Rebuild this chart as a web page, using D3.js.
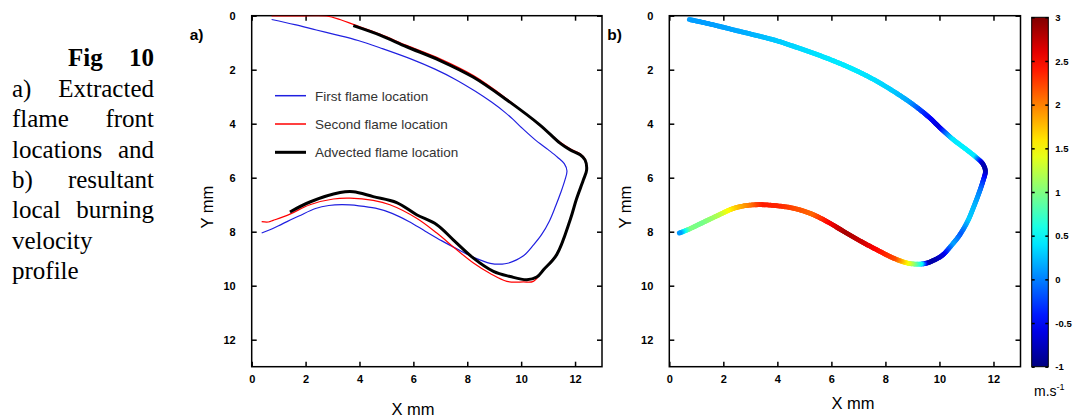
<!DOCTYPE html>
<html>
<head>
<meta charset="utf-8">
<script src="https://cdn.jsdelivr.net/npm/d3@7"></script>
<style>
  body { margin: 0; background: #fff; }
  svg { display: block; }
</style>
</head>
<body>
<svg id="fig" width="1078" height="417"></svg>
<script>
// ---- data (mm) ----
var firstX  = [0.74, 1.6, 2.4, 3.1, 3.95, 4.85, 5.9, 6.8, 7.56, 8.3, 8.9, 9.4, 9.7, 10.02, 10.5, 11.0, 11.35, 11.6, 11.7, 11.62, 11.47, 11.28, 11.05, 10.75, 10.45, 10.1, 9.7, 9.5, 9.3, 8.85, 8.3, 7.68, 7.06, 6.44, 5.83, 5.21, 4.59, 3.98, 3.36, 2.86, 2.37, 1.75, 1.14, 0.7, 0.37];
var firstY  = [0.14, 0.33, 0.53, 0.70, 0.92, 1.22, 1.60, 1.98, 2.36, 2.80, 3.20, 3.58, 3.84, 4.15, 4.58, 4.96, 5.24, 5.48, 5.75, 6.10, 6.55, 7.05, 7.60, 8.12, 8.50, 8.88, 9.10, 9.17, 9.20, 9.17, 8.98, 8.67, 8.34, 7.98, 7.62, 7.32, 7.13, 7.04, 7.00, 7.03, 7.14, 7.42, 7.71, 7.92, 8.05];
// local burning velocity along the first flame front (m/s)
var velocity = [0.12, 0.12, 0.15, 0.2, 0.28, 0.35, 0.4, 0.42, 0.38, 0.3, 0.15, -0.3, -0.5, -0.65, 0.4, 0.45, 0.4, -0.75, -0.85, -0.4, 0.0, 0.2, 0.3, -0.15, 0.15, -0.6, -0.85, -0.8, 0.45, 1.35, 2.2, 2.45, 2.7, 2.85, 2.5, 2.1, 2.2, 2.35, 2.4, 2.0, 1.7, 1.2, 0.95, 1.0, 0.1];

var secondX = [0.74, 1.8, 2.78, 3.3, 3.77, 4.76, 5.75, 6.99, 8.23, 9.47, 10.70, 11.44, 11.82, 12.19, 12.37, 12.43, 12.31, 12.05, 11.82, 11.32, 10.83, 10.45, 10.08, 9.47, 8.85, 8.23, 7.61, 6.87, 6.12, 5.13, 4.51, 3.65, 3.03, 2.16, 1.42, 0.80, 0.62, 0.37];
var secondY = [0.01, 0.01, 0.01, 0.15, 0.32, 0.68, 1.10, 1.60, 2.22, 3.08, 4.07, 4.68, 4.93, 5.11, 5.30, 5.71, 6.08, 6.80, 7.56, 8.82, 9.40, 9.84, 9.86, 9.84, 9.55, 9.16, 8.67, 8.05, 7.50, 7.00, 6.84, 6.76, 6.79, 7.00, 7.35, 7.58, 7.64, 7.63];

var advX = [3.77, 4.76, 5.75, 6.99, 8.23, 9.47, 10.70, 11.44, 11.82, 12.19, 12.37, 12.43, 12.31, 12.05, 11.82, 11.32, 10.83, 10.58, 10.21, 9.59, 8.97, 8.23, 7.48, 6.87, 6.12, 5.38, 4.51, 3.77, 3.28, 2.16, 1.42];
var advY = [0.37, 0.72, 1.15, 1.66, 2.28, 3.12, 4.05, 4.72, 4.97, 5.15, 5.34, 5.71, 6.08, 6.80, 7.56, 8.85, 9.41, 9.68, 9.78, 9.66, 9.47, 8.98, 8.30, 7.74, 7.37, 6.92, 6.70, 6.52, 6.55, 6.90, 7.27];

var axisTicks = [0, 2, 4, 6, 8, 10, 12];
var barTicks = [-1, -0.5, 0, 0.5, 1, 1.5, 2, 2.5, 3];
var legendNames = ["First flame location", "Second flame location", "Advected flame location"];
var captionLines = [["a)", "Extracted"], ["flame", "front"], ["locations", "and"], ["b)", "resultant"], ["local", "burning"], ["velocity"], ["profile"]];

var svg = d3.select("#fig");

function jet(t) {
  function c(v) { return Math.max(0, Math.min(1, v)); }
  var r = c(1.5 - Math.abs(4 * t - 3)), g = c(1.5 - Math.abs(4 * t - 2)), b = c(1.5 - Math.abs(4 * t - 1));
  return d3.rgb(r * 255, g * 255, b * 255).toString();
}
var color = d3.scaleSequential(jet).domain([-1, 3]);

// ---- caption on the left ----
var cap = svg.append("g").style("font-family", "Liberation Serif, Times New Roman, serif").style("font-size", "25px").attr("fill", "#000");
cap.append("text").attr("x", 68).attr("y", 66).style("font-weight", "bold").text("Fig");
cap.append("text").attr("x", 154).attr("y", 66).attr("text-anchor", "end").style("font-weight", "bold").text("10");
captionLines.forEach(function(words, i) {
  var yy = 97 + i * 30.3;
  cap.append("text").attr("x", 12).attr("y", yy).text(words[0]);
  if (words.length > 1)
    cap.append("text").attr("x", 154).attr("y", yy).attr("text-anchor", "end").text(words[1]);
});

// ---- panel builder ----
function buildPanel(left, right, top, bottom, label, xTitleX, xTitleY, yTitleX) {
  var x = d3.scaleLinear().domain([0, 13]).range([left, right]);
  var y = d3.scaleLinear().domain([0, 13]).range([top, bottom]);
  var g = svg.append("g");

  var fmt = d3.format("d");
  function style(sel) {
    sel.select(".domain").remove();
    sel.selectAll("line").attr("stroke", "#000").attr("stroke-width", 1.5);
    sel.selectAll("text").style("font-family", "Liberation Sans, Arial, sans-serif").style("font-size", "11px").style("font-weight", "bold").attr("fill", "#000");
  }
  g.append("g").attr("transform", "translate(0," + bottom + ")")
    .call(d3.axisBottom(x).tickValues(axisTicks).tickFormat(fmt).tickSizeInner(-5).tickSizeOuter(0).tickPadding(9)).call(style);
  g.append("g").attr("transform", "translate(0," + top + ")")
    .call(d3.axisTop(x).tickValues(axisTicks).tickFormat("").tickSizeInner(-5).tickSizeOuter(0)).call(style);
  g.append("g").attr("transform", "translate(" + left + ",0)")
    .call(d3.axisLeft(y).tickValues(axisTicks).tickFormat(fmt).tickSizeInner(-5).tickSizeOuter(0).tickPadding(16)).call(style);
  g.append("g").attr("transform", "translate(" + right + ",0)")
    .call(d3.axisRight(y).tickValues(axisTicks).tickFormat("").tickSizeInner(-5).tickSizeOuter(0)).call(style);

  g.append("rect").attr("x", left).attr("y", top).attr("width", right - left).attr("height", bottom - top)
    .attr("fill", "none").attr("stroke", "#000").attr("stroke-width", 1.5);

  g.append("text").attr("x", xTitleX).attr("y", xTitleY).attr("text-anchor", "middle")
    .style("font-family", "Liberation Sans, Arial, sans-serif").style("font-size", "16.5px").text("X mm");
  g.append("text").attr("transform", "translate(" + yTitleX + "," + ((top + bottom) / 2 + 16) + ") rotate(-90)")
    .attr("text-anchor", "middle")
    .style("font-family", "Liberation Sans, Arial, sans-serif").style("font-size", "16.5px").text("Y mm");
  g.append("text").attr("x", left - 62).attr("y", 40)
    .style("font-family", "Liberation Sans, Arial, sans-serif").style("font-size", "15.5px").style("font-weight", "bold").text(label);

  var clipId = "clip" + label.charAt(0);
  svg.append("clipPath").attr("id", clipId).append("rect")
    .attr("x", left).attr("y", top).attr("width", right - left).attr("height", bottom - top);
  var plot = g.append("g").attr("clip-path", "url(#" + clipId + ")");
  return { x: x, y: y, plot: plot, g: g };
}

// ---- panel a ----
var a = buildPanel(251.7, 602, 15.7, 366.7, "a)", 413, 415, 213);
var lineA = d3.line().x(function(d) { return a.x(d[0]); }).y(function(d) { return a.y(d[1]); }).curve(d3.curveCatmullRom);
function pairs(xs, ys) { return xs.map(function(v, i) { return [v, ys[i]]; }); }

a.plot.append("path").attr("d", lineA(pairs(firstX, firstY))).attr("fill", "none").attr("stroke", "#2020e0").attr("stroke-width", 1.2);
a.plot.append("path").attr("d", lineA(pairs(secondX, secondY))).attr("fill", "none").attr("stroke", "#ff0000").attr("stroke-width", 1.2);
a.plot.append("path").attr("d", lineA(pairs(advX, advY))).attr("fill", "none").attr("stroke", "#000").attr("stroke-width", 3).attr("stroke-linejoin", "round");

var legColors = ["#2020e0", "#ff0000", "#000"], legWidths = [1.5, 1.5, 3];
var legY = [95.7, 124, 152.3];
legendNames.forEach(function(name, i) {
  a.g.append("line").attr("x1", 275).attr("x2", 306).attr("y1", legY[i]).attr("y2", legY[i])
    .attr("stroke", legColors[i]).attr("stroke-width", legWidths[i]);
  a.g.append("text").attr("x", 315).attr("y", legY[i] + 5)
    .style("font-family", "Liberation Sans, Arial, sans-serif").style("font-size", "13.5px").attr("fill", "#333").text(name);
});

// ---- panel b ----
var b = buildPanel(669.3, 1020.5, 15.7, 366.7, "b)", 853, 409, 631);
var lineB = d3.line().x(function(d) { return b.x(d[0]); }).y(function(d) { return b.y(d[1]); }).curve(d3.curveCatmullRom);
var pts = pairs(firstX, firstY);
var measure = b.plot.append("path").attr("d", lineB(pts)).attr("fill", "none").attr("stroke", "none");
var total = measure.node().getTotalLength();
// arc length position of each data point
var cum = pts.map(function(p, i) {
  if (i === 0) return 0;
  var tmp = b.plot.append("path").attr("d", lineB(pts.slice(0, i + 1)));
  var l = tmp.node().getTotalLength();
  tmp.remove();
  return l;
});
var vAt = d3.scaleLinear().domain(cum).range(velocity);
var step = 1.5;
for (var s = 0; s < total; s += step) {
  var p0 = measure.node().getPointAtLength(s);
  var p1 = measure.node().getPointAtLength(Math.min(total, s + step));
  b.plot.append("line").attr("x1", p0.x).attr("y1", p0.y).attr("x2", p1.x).attr("y2", p1.y)
    .attr("stroke", color(vAt(s + step / 2))).attr("stroke-width", 4.8).attr("stroke-linecap", "round");
}

// ---- colour bar ----
var cbLeft = 1031.7, cbRight = 1048.3, cbTop = 17.3, cbBottom = 366.7;
var cy = d3.scaleLinear().domain([-1, 3]).range([cbBottom, cbTop]);
var grad = svg.append("defs").append("linearGradient").attr("id", "jet")
  .attr("x1", 0).attr("y1", 1).attr("x2", 0).attr("y2", 0);
d3.range(0, 1.0001, 0.05).forEach(function(t) {
  grad.append("stop").attr("offset", t).attr("stop-color", jet(t));
});
svg.append("rect").attr("x", cbLeft).attr("y", cbTop).attr("width", cbRight - cbLeft).attr("height", cbBottom - cbTop)
  .attr("fill", "url(#jet)").attr("stroke", "#000").attr("stroke-width", 1);
var cbAxis = svg.append("g").attr("transform", "translate(" + cbRight + ",0)")
  .call(d3.axisRight(cy).tickValues(barTicks).tickFormat(function(d) { return String(d); }).tickSizeInner(-3).tickSizeOuter(0).tickPadding(7));
cbAxis.select(".domain").remove();
cbAxis.selectAll("line").attr("stroke", "#000").attr("stroke-width", 1.5);
cbAxis.selectAll("text").style("font-family", "Liberation Sans, Arial, sans-serif").style("font-size", "9.5px").style("font-weight", "bold").attr("fill", "#000");
var cbAxisL = svg.append("g").attr("transform", "translate(" + cbLeft + ",0)")
  .call(d3.axisLeft(cy).tickValues(barTicks).tickFormat("").tickSizeInner(-3).tickSizeOuter(0));
cbAxisL.select(".domain").remove();
cbAxisL.selectAll("line").attr("stroke", "#000").attr("stroke-width", 1.5);

var unit = svg.append("text").attr("x", 1034).attr("y", 396)
  .style("font-family", "Liberation Sans, Arial, sans-serif").style("font-size", "14px");
unit.append("tspan").text("m.s");
unit.append("tspan").attr("dy", -6).style("font-size", "9px").text("-1");
</script>
</body>
</html>
